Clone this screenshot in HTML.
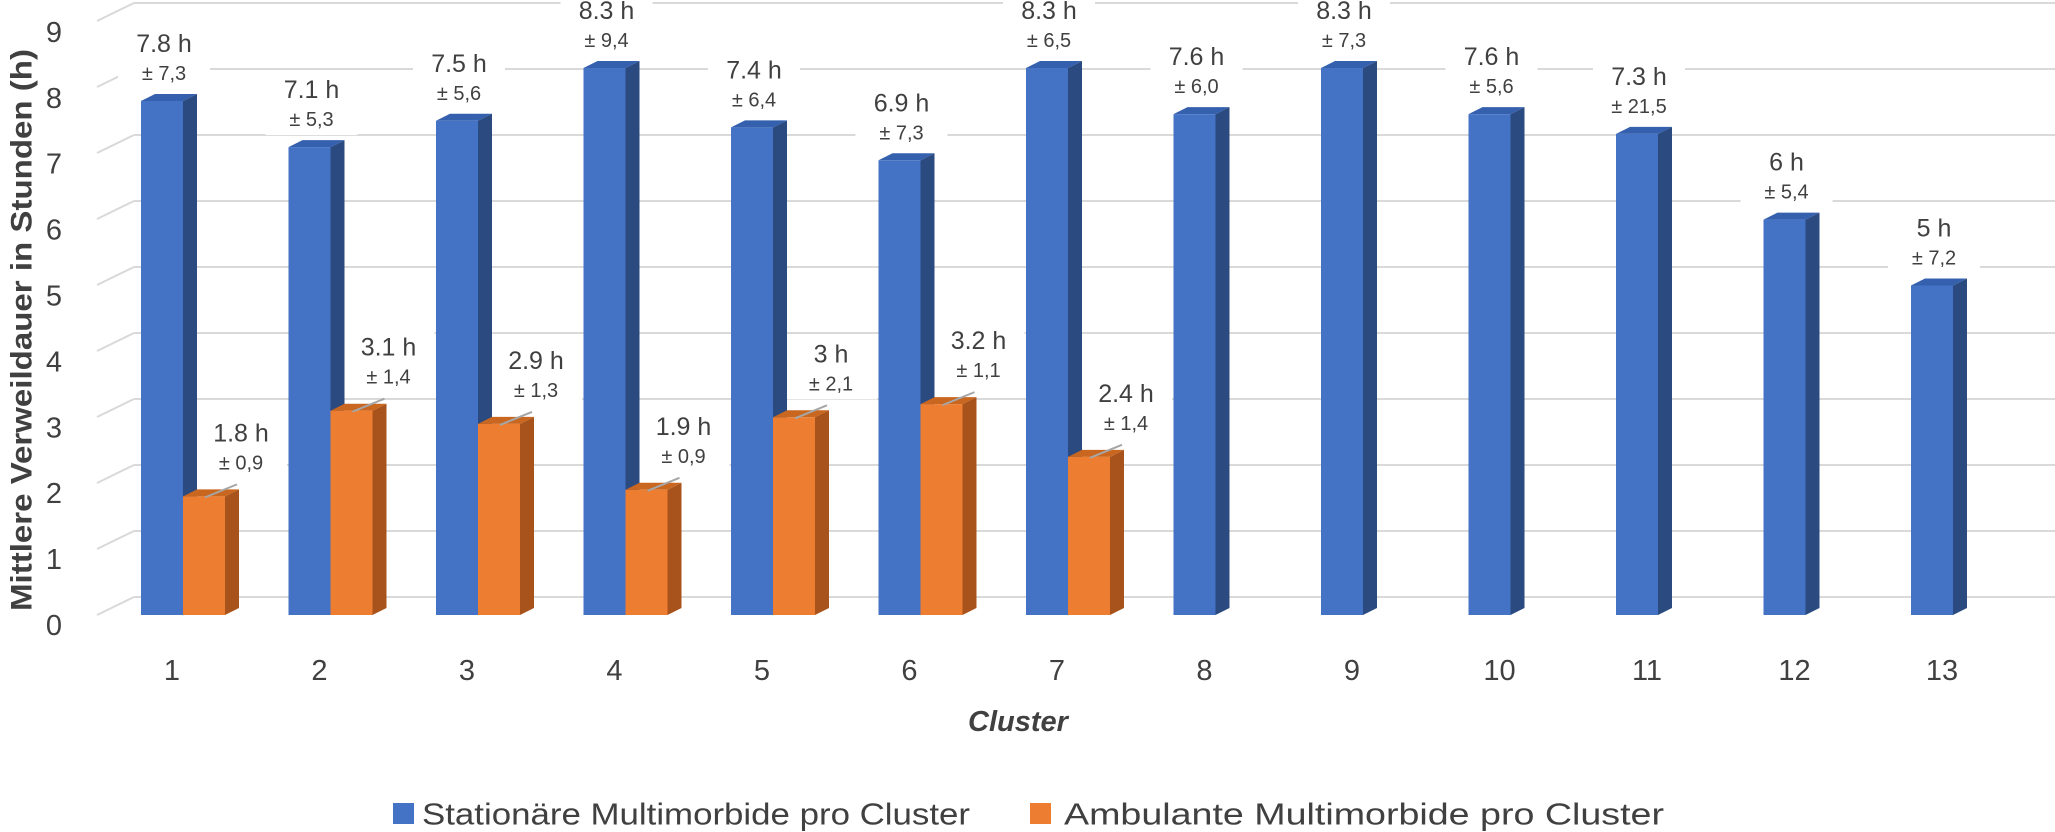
<!DOCTYPE html>
<html><head><meta charset="utf-8"><style>
html,body{margin:0;padding:0;background:#fff;}
svg{display:block;font-family:"Liberation Sans",sans-serif;}
</style></head><body>
<svg id="chart" width="2055" height="832" viewBox="0 0 2055 832" xmlns="http://www.w3.org/2000/svg">
<g id="grid"></g>
<g id="labelbg"></g>
<g id="yticks"></g>
<g id="bars"></g>
<g id="labels"></g>
<g id="xticks"></g>
<text transform="translate(22,330) rotate(-90)" text-anchor="middle" dominant-baseline="central" font-size="30" font-weight="bold" fill="#404040" textLength="562" lengthAdjust="spacingAndGlyphs">Mittlere Verweildauer in Stunden (h)</text>
<text x="1018" y="722" text-anchor="middle" dominant-baseline="central" font-size="29" font-weight="bold" font-style="italic" fill="#404040">Cluster</text>
<g>
<g><rect x="393" y="803" width="21" height="21" fill="#4472C4"/><text x="422" y="814" dominant-baseline="central" font-size="31" fill="#404040" textLength="548" lengthAdjust="spacingAndGlyphs">Stationäre Multimorbide pro Cluster</text></g>
<g><rect x="1030" y="803" width="21" height="21" fill="#ED7D31"/><text x="1064" y="814" dominant-baseline="central" font-size="31" fill="#404040" textLength="600" lengthAdjust="spacingAndGlyphs">Ambulante Multimorbide pro Cluster</text></g>
</g>
</svg>
<script>
const categories = ["1","2","3","4","5","6","7","8","9","10","11","12","13"];
const stationaer = [7.8,7.1,7.5,8.3,7.4,6.9,8.3,7.6,8.3,7.6,7.3,6,5];
const stationaerLabels = ["7.8 h","7.1 h","7.5 h","8.3 h","7.4 h","6.9 h","8.3 h","7.6 h","8.3 h","7.6 h","7.3 h","6 h","5 h"];
const stationaerSD = ["± 7,3","± 5,3","± 5,6","± 9,4","± 6,4","± 7,3","± 6,5","± 6,0","± 7,3","± 5,6","± 21,5","± 5,4","± 7,2"];
const ambulant = [1.8,3.1,2.9,1.9,3,3.2,2.4];
const ambulantLabels = ["1.8 h","3.1 h","2.9 h","1.9 h","3 h","3.2 h","2.4 h"];
const ambulantSD = ["± 0,9","± 1,4","± 1,3","± 0,9","± 2,1","± 1,1","± 1,4"];
const yTicks = [0,1,2,3,4,5,6,7,8,9];

const NS="http://www.w3.org/2000/svg";
function mk(tag,attrs,parent,txt){const e=document.createElementNS(NS,tag);for(const k in attrs)e.setAttribute(k,attrs[k]);if(txt!==undefined)e.textContent=txt;parent.appendChild(e);return e;}
const yFront=v=>615-v*65.9;
const yBack=v=>597-v*66;
const groupX=i=>141+i*147.5;
const BW=42, DX=14, DY=7;

const grid=document.getElementById('grid');
const yt=document.getElementById('yticks');
yTicks.forEach(v=>{
  const g=mk('g',{},grid);
  
  
  mk('line',{x1:134,y1:yBack(v),x2:2055,y2:yBack(v),stroke:'#d9d9d9','stroke-width':2},g);
  mk('line',{x1:97,y1:yBack(v)+18,x2:134,y2:yBack(v),stroke:'#d9d9d9','stroke-width':2},g);
  const t=mk('text',{x:54,y:yFront(v)+11,'text-anchor':'middle','dominant-baseline':'central','font-size':29,fill:'#404040'},yt,String(v));
  
  
});

const bars=document.getElementById('bars');
const labels=document.getElementById('labels');
const labelbg=document.getElementById('labelbg');
function bar(x,v,front,side,top,name){
  const g=mk('g',{},bars);
  
  
  const y0=yFront(0), y1=yFront(v);
  mk('polygon',{points:`${x+BW},${y1} ${x+BW+DX},${y1-DY} ${x+BW+DX},${y0-DY} ${x+BW},${y0}`,fill:side},g);
  mk('polygon',{points:`${x},${y1} ${x+DX},${y1-DY} ${x+BW+DX},${y1-DY} ${x+BW},${y1}`,fill:top},g);
  mk('rect',{x:x,y:y1,width:BW,height:y0-y1,fill:front},g);
}
function label(cx,y1,main,sd,name){
  const g=mk('g',{},labels);
  
  
  mk('rect',{x:cx-46,y:y1-74,width:92,height:62,fill:'#fff'},labelbg);
  mk('text',{x:cx,y:y1-57,'text-anchor':'middle','dominant-baseline':'central','font-size':25,fill:'#404040'},g,main);
  mk('text',{x:cx,y:y1-27,'text-anchor':'middle','dominant-baseline':'central','font-size':20,fill:'#404040'},g,sd);
}
const xt=document.getElementById('xticks');
categories.forEach((c,i)=>{
  const x=groupX(i);
  bar(x,stationaer[i],'#4472C4','#2A4A80','#3560AD','bar-stationaer-'+c);
  if(i<ambulant.length) bar(x+BW,ambulant[i],'#ED7D31','#A9531C','#C9661F','bar-ambulant-'+c);
  const t=mk('text',{x:x+BW-11,y:671,'text-anchor':'middle','dominant-baseline':'central','font-size':29,fill:'#404040'},xt,c);
  
  
});
categories.forEach((c,i)=>{
  const x=groupX(i);
  label(x+BW/2+DX/2-5,yFront(stationaer[i]),stationaerLabels[i],stationaerSD[i],'label-stationaer-'+c);
  if(i<ambulant.length){
    const y1=yFront(ambulant[i]);
    const cx=x+2*BW+DX+2;
    const l=mk('line',{x1:x+BW+22,y1:y1+1,x2:x+2*BW+DX-2,y2:y1-12,stroke:'#a6a6a6','stroke-width':2},labels);
    
    
    label(cx,y1-6,ambulantLabels[i],ambulantSD[i],'label-ambulant-'+c);
  }
});
</script>
</body></html>
